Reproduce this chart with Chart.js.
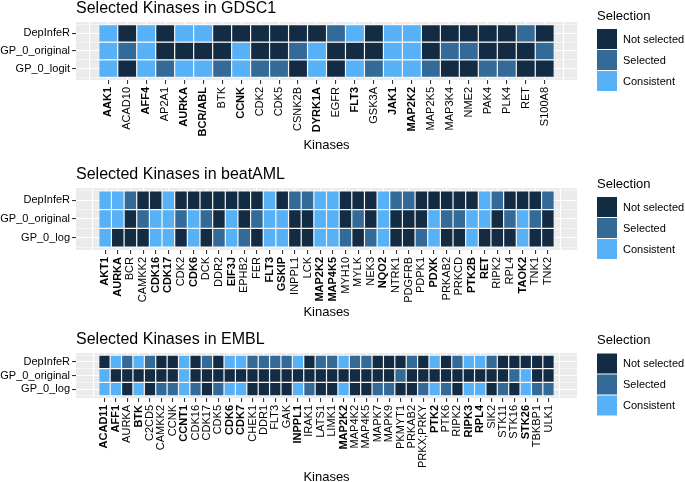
<!DOCTYPE html>
<html><head><meta charset="utf-8">
<script src="https://cdn.jsdelivr.net/npm/chart.js@4"></script>
<style>
html,body{margin:0;padding:0;background:#fff;width:685px;height:482px;overflow:hidden;position:relative}
canvas{position:absolute;left:0}
</style></head><body>
<canvas id="c1" width="685" height="156" style="top:-1px"></canvas>
<canvas id="c2" width="685" height="157" style="top:165px"></canvas>
<canvas id="c3" width="685" height="157" style="top:330px"></canvas>
<script>
// ---- legend categories ----
const statusCodes = ['N', 'S', 'C'];
const statusNames = ['Not selected', 'Selected', 'Consistent'];
const statusColors = ['#132B43', '#336A98', '#56B1F7'];

// ---- GDSC1 ----
const gdscKinases = ['AAK1','ACAD10','AFF4','AP2A1','AURKA','BCR/ABL','BTK','CCNK','CDK2','CDK5','CSNK2B','DYRK1A','EGFR','FLT3','GSK3A','JAK1','MAP2K2','MAP2K5','MAP3K4','NME2','PAK4','PLK4','RET','S100A8'];
const gdscBold = ['AAK1','AFF4','AURKA','BCR/ABL','CCNK','DYRK1A','FLT3','JAK1','MAP2K2'];
const gdscRowLabels = ['DepInfeR','GP_0_original','GP_0_logit'];
const gdscDepInfeR = ['C','N','C','N','C','C','N','N','N','N','N','N','S','C','N','C','C','N','N','N','N','N','S','N'];
const gdscOriginal = ['C','S','C','N','N','N','N','C','N','N','S','C','N','N','N','C','C','N','S','S','N','N','N','S'];
const gdscLogit    = ['C','N','C','S','C','C','S','C','S','S','N','C','N','C','S','C','C','S','N','N','S','S','N','N'];

// ---- beatAML ----
const amlKinases = ['AKT1','AURKA','BCR','CAMKK2','CDK16','CDK17','CDK2','CDK6','DCK','DDR2','EIF3J','EPHB2','FER','FLT3','GSKIP','INPPL1','LCK','MAP2K2','MAP4K5','MYH10','MYLK','NEK3','NQO2','NTRK1','PDGFRB','PDPK1','PDXK','PRKAB2','PRKCD','PTK2B','RET','RIPK2','RPL4','TAOK2','TNK1','TNK2'];
const amlBold = ['AKT1','AURKA','CDK16','CDK17','CDK6','EIF3J','FLT3','GSKIP','MAP2K2','MAP4K5','NQO2','PDXK','PTK2B','RET','TAOK2'];
const amlRowLabels = ['DepInfeR','GP_0_original','GP_0_log'];
const amlDepInfeR = ['C','C','S','N','N','C','N','N','N','N','N','N','N','C','N','S','S','C','C','N','N','N','C','S','S','N','N','N','N','N','C','S','N','N','N','S'];
const amlOriginal = ['C','C','N','S','C','C','S','C','S','N','C','N','S','C','C','N','N','C','C','N','S','N','C','N','N','N','C','S','S','C','C','N','S','C','S','N'];
const amlLog      = ['C','N','N','N','C','C','N','C','N','S','C','S','N','C','C','N','N','C','C','S','N','S','C','N','N','S','C','N','N','C','N','N','N','C','N','N'];

// ---- EMBL ----
const emblKinases = ['ACAD11','AFF1','AURKA','BTK','C2CD5','CAMKK2','CCNK','CCNT1','CDK16','CDK17','CDK5','CDK6','CDK7','CHEK1','DDR1','FLT3','GAK','INPPL1','IRAK1','LATS1','LIMK1','MAP2K2','MAP4K2','MAP4K5','MAPK7','MAPK9','PKMYT1','PRKAB2','PRKX;PRKY','PTK2','PTK6','RIPK2','RIPK3','RPL4','SIK2','STK11','STK16','STK26','TBKBP1','ULK1'];
const emblBold = ['ACAD11','AFF1','BTK','CCNT1','CDK6','CDK7','INPPL1','MAP2K2','PTK2','RIPK3','RPL4','STK26'];
const emblRowLabels = ['DepInfeR','GP_0_original','GP_0_log'];
const emblDepInfeR = ['N','C','S','C','S','N','N','C','N','S','N','C','C','S','S','S','S','C','N','S','S','C','S','S','N','N','N','S','N','C','N','S','C','C','S','N','N','N','N','N'];
const emblOriginal = ['C','N','N','N','N','N','N','C','N','N','N','N','N','N','N','N','N','N','N','N','N','N','N','N','N','N','S','N','N','N','N','N','N','N','N','N','S','C','N','N'];
const emblLog      = ['C','C','N','C','N','S','S','C','S','N','S','C','C','N','N','N','N','C','S','N','N','C','N','N','S','S','N','N','S','C','S','N','C','C','N','S','N','C','S','S'];

const FONT = '"Liberation Sans", Arial, Helvetica, sans-serif';
Chart.defaults.font.family = FONT;
Chart.defaults.color = '#000';

const colorOf = code => statusColors[statusCodes.indexOf(code)];

const panelBg = {
  id: 'panelBg',
  beforeDraw(chart) {
    const {ctx, chartArea: a} = chart;
    ctx.save();
    ctx.fillStyle = '#EBEBEB';
    ctx.fillRect(a.left, a.top, a.right - a.left, a.bottom - a.top);
    ctx.restore();
  }
};

const keyLegend = {
  id: 'keyLegend',
  afterDraw(chart) {
    const {ctx, chartArea: a} = chart;
    const cy = (a.top + a.bottom) / 2;
    const x0 = 597;
    ctx.save();
    ctx.fillStyle = '#000';
    ctx.textBaseline = 'middle';
    ctx.textAlign = 'left';
    ctx.font = '13px ' + FONT;
    ctx.fillText('Selection', x0, cy - 35);
    ctx.font = '11px ' + FONT;
    statusNames.forEach((name, i) => {
      const top = cy - 22 + 21 * i;
      ctx.fillStyle = statusColors[i];
      ctx.fillRect(x0, top, 20, 20);
      ctx.fillStyle = '#000';
      ctx.fillText(name, x0 + 26, top + 10.5);
    });
    ctx.restore();
  }
};

function makeHeatmap(id, title, kinases, bold, rows, rowLabels, xAxisHeight) {
  const n = kinases.length;
  const datasets = rows.map((vals, r) => {
    const yc = rows.length - 1 - r;
    return {
      data: vals.map((s, i) => ({x: i + 1, y: [yc - 0.5, yc + 0.5], s})),
      backgroundColor: ctx => (ctx.raw ? colorOf(ctx.raw.s) : '#999'),
      borderColor: '#FFFFFF',
      borderWidth: 0.6,
      borderSkipped: false,
      inflateAmount: 0,
      grouped: false,
      barPercentage: 1,
      categoryPercentage: 1
    };
  });
  const padX = 0.05 * n;
  const padY = 0.05 * rows.length;
  return new Chart(document.getElementById(id), {
    type: 'bar',
    data: {datasets},
    plugins: [panelBg, keyLegend],
    options: {
      responsive: false,
      animation: false,
      layout: {padding: {left: 0, right: 108, top: 0, bottom: 0}},
      plugins: {
        legend: {display: false},
        tooltip: {enabled: false},
        title: {
          display: true, text: title, align: 'start', fullSize: false,
          color: '#000', font: {size: 16, weight: 'normal'},
          padding: {top: 0, bottom: 3.8}
        }
      },
      scales: {
        x: {
          type: 'linear',
          offset: false,
          min: 0.5 - padX,
          max: n + 0.5 + padX,
          afterBuildTicks: s => { s.ticks = Array.from({length: n + 2}, (_, i) => ({value: i})); },
          afterFit: s => { s.height = xAxisHeight; },
          border: {display: false},
          grid: {
            offset: false,
            color: '#FFFFFF',
            lineWidth: 1.1,
            tickLength: 4,
            tickColor: ctx => (ctx.tick && ctx.tick.value >= 1 && ctx.tick.value <= n ? '#333333' : 'rgba(0,0,0,0)')
          },
          ticks: {
            autoSkip: false,
            minRotation: 90,
            maxRotation: 90,
            padding: 3,
            color: '#000',
            callback: v => kinases[v - 1] || '',
            font: ctx => {
              const name = ctx.tick ? kinases[ctx.tick.value - 1] : '';
              return {family: FONT, size: 11, weight: bold.includes(name) ? 'bold' : 'normal'};
            }
          },
          title: {
            display: true, text: 'Kinases', color: '#000',
            font: {size: 13}, padding: {top: 0, bottom: 2}
          }
        },
        y: {
          type: 'linear',
          min: -0.5 - padY,
          max: rows.length - 0.5 + padY,
          afterBuildTicks: s => {
            const t = [];
            for (let v = -0.5; v <= rows.length - 0.5; v += 0.5) t.push({value: v});
            s.ticks = t;
          },
          afterFit: s => { s.width = 76; },
          border: {display: false},
          grid: {
            color: '#FFFFFF',
            lineWidth: ctx => (ctx.tick && Number.isInteger(ctx.tick.value) ? 1.1 : 0.5),
            tickLength: 4,
            tickColor: ctx => (ctx.tick && Number.isInteger(ctx.tick.value) ? '#333333' : 'rgba(0,0,0,0)')
          },
          ticks: {
            autoSkip: false,
            padding: 2,
            color: '#000',
            font: {size: 11},
            callback: v => (Number.isInteger(v) ? rowLabels[rows.length - 1 - v] : '')
          }
        }
      }
    }
  });
}

makeHeatmap('c1', 'Selected Kinases in GDSC1', gdscKinases, gdscBold,
  [gdscDepInfeR, gdscOriginal, gdscLogit], gdscRowLabels, 75);
makeHeatmap('c2', 'Selected Kinases in beatAML', amlKinases, amlBold,
  [amlDepInfeR, amlOriginal, amlLog], amlRowLabels, 72);
makeHeatmap('c3', 'Selected Kinases in EMBL', emblKinases, emblBold,
  [emblDepInfeR, emblOriginal, emblLog], emblRowLabels, 89);
</script>
</body></html>
